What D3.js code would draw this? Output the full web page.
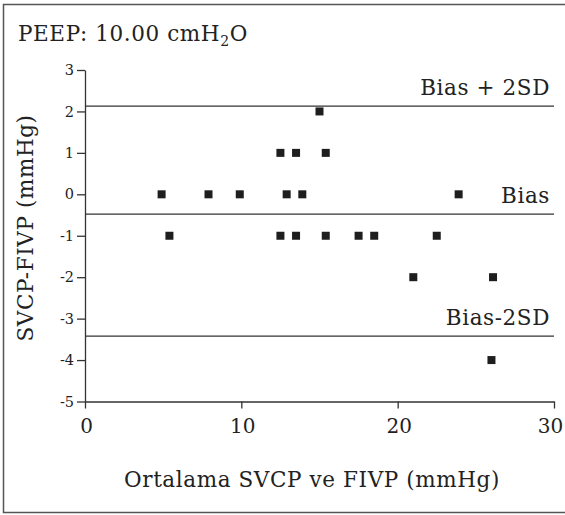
<!DOCTYPE html>
<html>
<head>
<meta charset="utf-8">
<script src="https://cdn.jsdelivr.net/npm/d3@7"></script>
<style>
  body { margin: 0; background: #fff; }
  svg text { font-family: "DejaVu Serif", "Liberation Serif", serif; fill: #222; }
  .big { font-size: 21.5px; letter-spacing: 0.6px; }
</style>
</head>
<body>
<div id="chart"></div>
<script>
// Bland-Altman points
var meanValues = [4.9, 5.4, 7.9, 9.9, 12.5, 12.5, 12.9, 13.5, 13.5, 13.9, 15.0, 15.4, 15.4, 17.5, 18.5, 21.0, 22.5, 23.9, 26.1, 26.0];
var diffValues = [0, -1, 0, 0, 1, -1, 0, 1, -1, 0, 2, 1, -1, -1, -1, -2, -1, 0, -2, -4];

// reference lines
var refNames = ["Bias + 2SD", "Bias", "Bias-2SD"];
var refValues = [2.13, -0.48, -3.42];

var xTicks = [0, 10, 20, 30];
var yTicks = [3, 2, 1, 0, -1, -2, -3, -4, -5];

var width = 565, height = 515;
var plotLeft = 85, plotRight = 554, plotTop = 70, plotBottom = 401.5;

var svg = d3.select("#chart").append("svg")
  .attr("width", width)
  .attr("height", height);

//Frame
svg.append("rect")
  .attr("x", 3.5)
  .attr("y", 4.5)
  .attr("width", 600)
  .attr("height", 508)
  .attr("fill", "none")
  .attr("stroke", "#555")
  .attr("stroke-width", 1.5);

var x = d3.scaleLinear().domain([0, 30]).range([plotLeft, plotRight]);
var y = d3.scaleLinear().domain([-5, 3]).range([plotBottom, plotTop]);

//Add X axis
var xAxis = svg.append("g")
  .attr("transform", "translate(0," + plotBottom + ")")
  .call(d3.axisBottom(x).tickValues(xTicks).tickSize(7).tickSizeOuter(0).tickPadding(10));

xAxis.selectAll("text")
  .style("font-size", "20px")
  .attr("dx", function(d) { return d == 30 ? -4 : 1; });

//Add Y axis (plain hyphen for negatives)
var yAxis = svg.append("g")
  .attr("transform", "translate(" + plotLeft + ",0)")
  .call(d3.axisLeft(y).tickValues(yTicks).tickSize(8).tickSizeOuter(0).tickPadding(3)
    .tickFormat(function(d) { return String(d); }));

yAxis.selectAll("text").style("font-size", "14.5px");
svg.selectAll(".domain, .tick line").attr("stroke", "#333").attr("stroke-width", 1.3);

//Reference lines
var refs = svg.selectAll(".ref")
  .data(refValues)
  .enter().append("g")
  .attr("class", "ref");

refs.append("line")
  .attr("x1", x(0))
  .attr("x2", x(30))
  .attr("y1", function(d) { return y(d); })
  .attr("y2", function(d) { return y(d); })
  .attr("stroke", "#333")
  .attr("stroke-width", 1.3);

refs.append("text")
  .attr("class", "big")
  .attr("x", 550)
  .attr("y", function(d) { return y(d) - 11; })
  .style("text-anchor", "end")
  .text(function(d, i) { return refNames[i]; });

//Points
svg.selectAll(".pt")
  .data(meanValues)
  .enter().append("rect")
  .attr("class", "pt")
  .attr("x", function(d) { return x(d) - 4; })
  .attr("y", function(d, i) { return y(diffValues[i]) - 4; })
  .attr("width", 8)
  .attr("height", 8)
  .attr("fill", "#1e1e1e");

//Titles
var title = svg.append("text")
  .attr("class", "big")
  .attr("x", 18)
  .attr("y", 41);
title.append("tspan").text("PEEP: 10.00 cmH");
title.append("tspan").attr("dy", 5).style("font-size", "14px").text("2");
title.append("tspan").attr("dy", -5).text("O");

svg.append("text")
  .attr("class", "big")
  .attr("x", 312)
  .attr("y", 487)
  .style("text-anchor", "middle")
  .text("Ortalama SVCP ve FIVP (mmHg)");

svg.append("text")
  .attr("class", "big")
  .attr("transform", "translate(33,228) rotate(-90)")
  .style("text-anchor", "middle")
  .text("SVCP-FIVP (mmHg)");
</script>
</body>
</html>
